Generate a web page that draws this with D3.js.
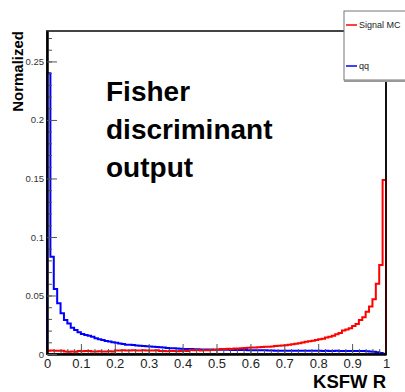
<!DOCTYPE html>
<html>
<head>
<meta charset="utf-8">
<script src="https://cdn.jsdelivr.net/npm/d3@7"></script>
<style>
  body { margin: 0; background: #fff; }
  svg { display: block; font-family: "Liberation Sans", Arial, sans-serif; }
</style>
</head>
<body>
<div id="chart"></div>
<script>
var svgWidth = 405;
var svgHeight = 392;

// frame edges in pixels
var margin = { top: 31, right: 19, bottom: 38, left: 47 };
var width = svgWidth - margin.left - margin.right;
var height = svgHeight - margin.top - margin.bottom;

// 100 bins from 0 to 1
var binEdges = d3.range(101).map(i => i / 100);

// qq background
var qqValues = [
  0.240, 0.083, 0.0556, 0.0433, 0.0348, 0.029, 0.026, 0.0225, 0.0205, 0.0185,
  0.0171, 0.0162, 0.0155, 0.0148, 0.0134, 0.0125, 0.0120, 0.0112, 0.0106, 0.0100,
  0.0097, 0.0090, 0.0085, 0.0080, 0.0078, 0.0076, 0.0073, 0.0070, 0.0068, 0.0066,
  0.0064, 0.0062, 0.0060, 0.0057, 0.0055, 0.0052, 0.0050, 0.0049, 0.0046, 0.0044,
  0.0043, 0.0043, 0.0042, 0.0041, 0.0040, 0.0039, 0.0039, 0.0038, 0.0038, 0.0037,
  0.0037, 0.0036, 0.0036, 0.0036, 0.0035, 0.0035, 0.0034, 0.0034, 0.0034, 0.0033,
  0.0033, 0.0033, 0.0032, 0.0032, 0.0031, 0.0029, 0.0029, 0.0028, 0.0028, 0.0028,
  0.0028, 0.0028, 0.0027, 0.0028, 0.0027, 0.0027, 0.0028, 0.0027, 0.0027, 0.0027,
  0.0027, 0.0026, 0.0027, 0.0026, 0.0026, 0.0027, 0.0026, 0.0026, 0.0026, 0.0026,
  0.0026, 0.0025, 0.0025, 0.0025, 0.0023, 0.0021, 0.0019, 0.0015, 0.0008, 0.0003
];

// signal MC
var signalValues = [
  0.0028, 0.0029, 0.0027, 0.0028, 0.0027, 0.0021, 0.0020, 0.0021, 0.0019, 0.0025,
  0.0024, 0.0026, 0.0025, 0.0022, 0.0021, 0.0023, 0.0022, 0.0021, 0.0023, 0.0022,
  0.0030, 0.0029, 0.0031, 0.0030, 0.0029, 0.0031, 0.0030, 0.0029, 0.0031, 0.0030,
  0.0029, 0.0030, 0.0031, 0.0026, 0.0025, 0.0024, 0.0026, 0.0025, 0.0024, 0.0026,
  0.0027, 0.0025, 0.0034, 0.0033, 0.0035, 0.0030, 0.0032, 0.0031, 0.0034, 0.0036,
  0.0038, 0.0042, 0.0043, 0.0044, 0.0043, 0.0046, 0.0047, 0.0049, 0.0052, 0.0054,
  0.0055, 0.0056, 0.0057, 0.0060, 0.0062, 0.0063, 0.0065, 0.0068, 0.0070, 0.0072,
  0.0075, 0.0080, 0.0084, 0.0088, 0.0092, 0.0098, 0.0105, 0.0108, 0.0114, 0.0120,
  0.0125, 0.0130, 0.0140, 0.0148, 0.0157, 0.0168, 0.0180, 0.0200, 0.0210, 0.0220,
  0.0240, 0.0256, 0.0290, 0.0313, 0.0360, 0.0405, 0.0467, 0.0600, 0.0760, 0.1487
];

var xTicks = [0, 0.1, 0.2, 0.3, 0.4, 0.5, 0.6, 0.7, 0.8, 0.9, 1];
var yTicks = [0, 0.05, 0.1, 0.15, 0.2, 0.25];
var xMinorTicks = d3.range(0, 51).map(i => i / 50);
var yMinorTicks = d3.range(0, 28).map(i => i / 100);

var legendLabels = ["Signal MC", "qq"];

var svg = d3.select("#chart")
  .append("svg")
  .attr("width", svgWidth)
  .attr("height", svgHeight);

svg.append("rect")
  .attr("width", svgWidth)
  .attr("height", svgHeight)
  .attr("fill", "#fff");

var chartGroup = svg.append("g")
  .attr("transform", `translate(${margin.left}, ${margin.top})`);

var xScale = d3.scaleLinear().domain([0, 1]).range([0, width]);
var yScale = d3.scaleLinear().domain([0, 0.276]).range([height, 0]);

// frame
chartGroup.append("rect")
  .attr("width", width)
  .attr("height", height)
  .attr("fill", "none")
  .attr("stroke", "#444")
  .attr("stroke-width", 2);

// step path for a histogram
function histPath(values) {
  var pts = [[xScale(0), yScale(0)]];
  values.forEach((v, i) => {
    pts.push([xScale(binEdges[i]), yScale(v)]);
    pts.push([xScale(binEdges[i + 1]), yScale(v)]);
  });
  pts.push([xScale(1), yScale(0)]);
  return d3.line()(pts);
}

chartGroup.append("path")
  .attr("d", histPath(qqValues))
  .attr("fill", "none")
  .attr("stroke", "#0000ff")
  .attr("stroke-width", 2);

chartGroup.append("path")
  .attr("d", histPath(signalValues))
  .attr("fill", "none")
  .attr("stroke", "#ff0000")
  .attr("stroke-width", 2);

// x axis: ticks pointing up into the frame
var xMinor = chartGroup.append("g")
  .attr("transform", `translate(0, ${height})`)
  .call(d3.axisBottom(xScale).tickValues(xMinorTicks).tickSizeInner(-5).tickSizeOuter(0).tickFormat(""));

var xAxis = chartGroup.append("g")
  .attr("transform", `translate(0, ${height})`)
  .call(d3.axisBottom(xScale).tickValues(xTicks).tickSizeInner(-10).tickSizeOuter(0)
    .tickPadding(5).tickFormat(d3.format("~g")));

// y axis: ticks pointing right
var yMinor = chartGroup.append("g")
  .call(d3.axisLeft(yScale).tickValues(yMinorTicks).tickSizeInner(-5).tickSizeOuter(0).tickFormat(""));

var yAxis = chartGroup.append("g")
  .call(d3.axisLeft(yScale).tickValues(yTicks).tickSizeInner(-10).tickSizeOuter(0)
    .tickPadding(3).tickFormat(d3.format("~g")));

[xMinor, xAxis, yMinor, yAxis].forEach(g => {
  g.selectAll(".tick line").attr("stroke", "#555").attr("stroke-width", 1);
  g.select(".domain").attr("stroke", "#000").attr("stroke-width", 2);
});

xAxis.selectAll("text")
  .attr("font-size", 13)
  .attr("fill", "#222");

yAxis.selectAll("text")
  .attr("font-size", 9.5)
  .attr("fill", "#333");

// right edge
chartGroup.append("line")
  .attr("x1", width).attr("x2", width)
  .attr("y1", 0).attr("y2", height)
  .attr("stroke", "#000")
  .attr("stroke-width", 1.5);

// axis titles
svg.append("text")
  .attr("transform", `translate(23, ${margin.top}) rotate(-90)`)
  .attr("text-anchor", "end")
  .attr("font-size", 15)
  .attr("font-weight", "bold")
  .text("Normalized");

svg.append("text")
  .attr("x", margin.left + width)
  .attr("y", 388)
  .attr("text-anchor", "end")
  .attr("font-size", 18.5)
  .attr("font-weight", "bold")
  .text("KSFW R");

// big caption
var caption = ["Fisher", "discriminant", "output"];
svg.append("g").selectAll("text")
  .data(caption)
  .enter()
  .append("text")
  .attr("x", 106)
  .attr("y", (d, i) => 101 + i * 38)
  .attr("font-size", 28)
  .attr("font-weight", "bold")
  .attr("fill", "#000")
  .text(d => d);

// legend
var legend = svg.append("g").attr("transform", "translate(344, 11)");
legend.append("rect")
  .attr("width", 70)
  .attr("height", 69)
  .attr("fill", "#fff")
  .attr("stroke", "#777")
  .attr("stroke-width", 1);
legend.append("line")
  .attr("x1", 0).attr("x2", 70)
  .attr("y1", 70).attr("y2", 70)
  .attr("stroke", "#999")
  .attr("stroke-width", 2);

var legendColors = ["#ff0000", "#0000ff"];
var legendY = [14, 55];
legendLabels.forEach((label, i) => {
  legend.append("line")
    .attr("x1", 2).attr("x2", 13)
    .attr("y1", legendY[i]).attr("y2", legendY[i])
    .attr("stroke", legendColors[i])
    .attr("stroke-width", 1.5);
  legend.append("text")
    .attr("x", 15)
    .attr("y", legendY[i] + 3)
    .attr("font-size", 9)
    .attr("fill", "#222")
    .text(label);
});
</script>
</body>
</html>
